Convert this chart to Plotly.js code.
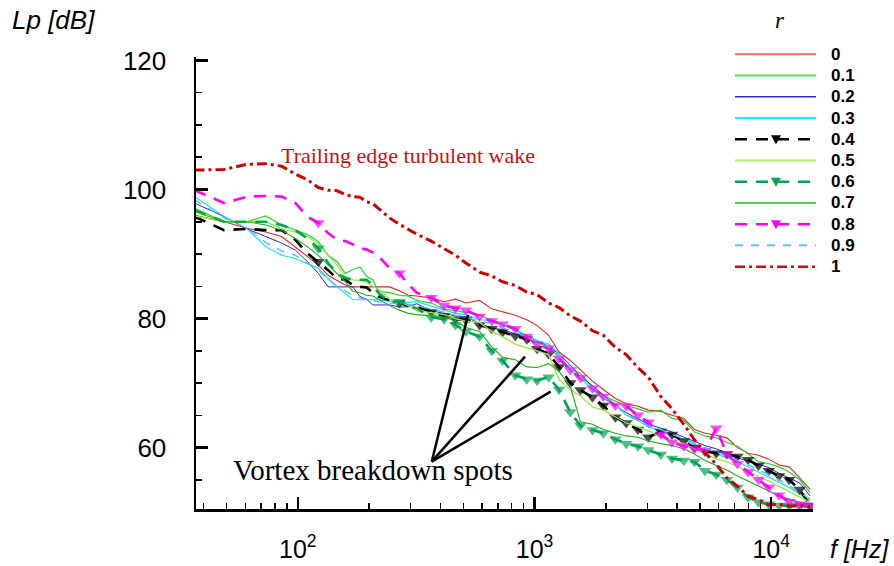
<!DOCTYPE html>
<html>
<head>
<meta charset="utf-8">
<script src="https://cdn.plot.ly/plotly-3.0.1.min.js"></script>
<style>html,body{margin:0;padding:0;background:#fff;}#chart{width:894px;height:566px;}</style>
</head>
<body>
<div id="chart"></div>
<script>
// Narrowband frequency bins [Hz]
const freq = [36.6, 48.8, 61.0, 73.2, 85.4, 97.7, 109.9, 122.1, 134.3, 146.5, 158.7, 170.9, 183.1, 195.3, 207.5, 219.7, 244.1, 268.6, 293.0, 317.4, 366.2, 415.0, 463.9, 512.7, 585.9, 659.2, 732.4, 830.1, 927.7, 1025.4, 1147.5, 1269.5, 1416.0, 1562.5, 1757.8, 1953.1, 2197.3, 2441.4, 2734.4, 3027.3, 3417.9, 3808.6, 4272.5, 4736.3, 5249.0, 5859.4, 6494.1, 7202.1, 7983.4, 8837.9, 9765.6, 10791.0, 11914.1, 13183.6, 14599.6];

const seriesNames = ['0', '0.1', '0.2', '0.3', '0.4', '0.5', '0.6', '0.7', '0.8', '0.9', '1'];

// Sound pressure level Lp [dB] per r
const lp_r0  = [96.0, 95.0, 94.0, 93.4, 92.7, 91.1, 89.6, 88.3, 86.7, 85.9, 85.2, 84.9, 84.9, 84.9, 84.9, 84.9, 84.9, 84.3, 83.6, 83.5, 83.2, 82.6, 83.0, 82.4, 82.8, 81.5, 81.0, 80.5, 79.8, 78.9, 77.4, 74.8, 73.5, 72.0, 70.3, 69.0, 67.6, 66.8, 66.4, 65.8, 65.6, 65.0, 64.5, 62.8, 62.2, 61.9, 61.5, 60.0, 59.1, 58.8, 58.2, 57.3, 57.0, 55.3, 53.5];
const lp_r01 = [97.1, 95.0, 95.0, 95.9, 94.5, 93.7, 93.0, 91.9, 89.8, 88.8, 87.0, 87.6, 88.0, 86.5, 86.0, 84.2, 84.0, 83.6, 83.5, 82.8, 82.4, 81.5, 81.2, 80.9, 80.6, 79.6, 79.0, 78.4, 77.2, 76.3, 75.6, 74.0, 72.2, 71.5, 69.3, 68.0, 67.2, 66.5, 66.0, 65.5, 65.8, 64.5, 64.2, 62.4, 61.8, 61.5, 60.8, 60.2, 59.0, 57.8, 57.5, 57.0, 56.2, 55.0, 53.0];
const lp_r02 = [97.9, 95.8, 93.9, 92.7, 91.7, 90.6, 88.8, 87.0, 84.9, 84.9, 84.9, 84.9, 83.4, 83.0, 82.1, 82.1, 82.1, 81.8, 81.8, 82.3, 81.2, 80.8, 80.4, 80.3, 79.2, 78.5, 78.3, 77.6, 77.0, 76.5, 75.7, 74.5, 72.8, 71.0, 69.6, 68.2, 66.5, 65.4, 64.4, 63.6, 63.0, 62.4, 61.6, 61.0, 60.3, 59.8, 59.2, 58.4, 57.9, 57.4, 56.9, 56.0, 55.2, 54.5, 52.5];
const lp_r03 = [98.9, 95.8, 93.9, 91.1, 89.8, 89.3, 88.5, 87.8, 86.2, 84.9, 83.9, 82.9, 82.9, 82.9, 82.9, 82.9, 82.7, 82.6, 82.5, 82.6, 81.9, 81.4, 80.8, 80.6, 79.8, 79.7, 79.0, 78.2, 77.4, 76.6, 76.0, 74.6, 72.0, 70.8, 69.0, 67.6, 66.6, 65.0, 64.2, 63.2, 62.6, 61.8, 61.2, 60.5, 59.6, 59.0, 58.4, 57.8, 57.0, 56.2, 55.4, 54.6, 53.8, 52.8, 51.8];
const lp_r04 = [95.8, 93.7, 93.9, 93.7, 93.7, 92.2, 90.1, 88.8, 87.5, 86.2, 86.0, 85.2, 84.9, 84.8, 84.0, 83.4, 82.8, 82.4, 82.0, 81.8, 81.0, 80.4, 79.9, 79.8, 79.0, 78.4, 77.9, 77.3, 76.8, 75.3, 74.5, 72.5, 70.0, 68.9, 67.8, 66.5, 64.7, 63.8, 62.8, 61.6, 62.5, 62.0, 61.0, 60.0, 59.4, 59.1, 59.0, 58.6, 58.1, 57.2, 56.4, 55.6, 55.0, 53.5, 51.0];
const lp_r05 = [95.9, 95.0, 95.0, 95.0, 93.9, 93.4, 92.7, 91.5, 89.8, 88.3, 86.5, 86.0, 85.9, 85.6, 85.0, 84.5, 83.0, 82.6, 82.0, 81.2, 80.9, 80.6, 80.0, 79.6, 79.4, 78.0, 77.2, 76.0, 75.5, 75.0, 74.4, 70.5, 69.0, 68.0, 66.3, 65.8, 64.7, 63.8, 63.2, 62.6, 61.6, 61.0, 60.6, 59.8, 59.0, 58.2, 57.8, 57.0, 56.2, 55.5, 54.8, 54.0, 53.2, 52.4, 51.5];
const lp_r06 = [96.8, 95.0, 95.0, 95.0, 94.5, 93.7, 92.4, 90.9, 88.6, 87.0, 86.3, 86.0, 86.0, 86.0, 85.2, 83.9, 82.6, 82.6, 82.0, 81.6, 80.2, 79.9, 79.0, 78.0, 77.2, 75.0, 73.5, 71.2, 70.6, 70.4, 70.9, 69.0, 65.5, 63.4, 62.7, 62.2, 61.3, 60.6, 60.2, 59.6, 58.9, 58.3, 58.0, 57.8, 56.4, 55.8, 55.0, 53.8, 52.3, 51.5, 51.2, 51.0, 51.0, 50.9, 50.8];
const lp_r07 = [96.6, 95.0, 95.0, 94.5, 93.7, 92.4, 91.1, 89.8, 88.3, 87.0, 85.7, 84.2, 84.0, 83.6, 83.5, 83.0, 82.0, 81.3, 80.8, 80.6, 80.4, 80.2, 79.6, 78.6, 78.0, 75.6, 74.0, 73.6, 72.5, 72.4, 73.0, 71.8, 69.5, 64.0, 63.6, 62.8, 62.2, 61.8, 61.6, 61.0, 60.6, 60.3, 59.8, 59.0, 58.0, 57.2, 56.5, 55.6, 54.8, 54.0, 53.2, 52.5, 52.0, 51.5, 51.0];
const lp_r08 = [99.9, 97.9, 98.9, 99.0, 98.9, 97.9, 95.8, 94.8, 93.2, 92.2, 92.0, 91.5, 90.9, 90.7, 90.2, 89.6, 87.8, 87.0, 85.3, 84.0, 83.2, 82.0, 81.6, 81.3, 80.3, 79.6, 79.1, 78.4, 77.2, 76.0, 75.4, 73.8, 72.0, 70.8, 69.2, 67.9, 66.5, 66.4, 65.0, 63.9, 62.0, 60.8, 60.2, 59.8, 59.5, 63.0, 59.0, 57.5, 56.2, 55.0, 53.8, 52.6, 51.6, 51.2, 51.0];
const lp_r09 = [98.4, 95.6, 94.0, 91.8, 90.5, 89.8, 88.6, 87.5, 86.0, 85.0, 84.3, 83.5, 83.2, 83.0, 82.8, 82.6, 82.4, 82.3, 82.2, 82.0, 81.5, 81.0, 80.5, 80.2, 79.6, 79.2, 78.6, 77.9, 77.2, 76.4, 75.6, 74.2, 72.4, 70.9, 69.3, 67.9, 66.5, 65.2, 64.3, 63.4, 62.8, 62.0, 61.4, 60.6, 59.9, 59.3, 58.7, 58.0, 57.3, 56.6, 55.8, 55.0, 54.1, 53.0, 52.0];
const lp_r1  = [103.0, 103.1, 103.9, 104.0, 103.6, 102.4, 101.5, 100.3, 99.9, 99.8, 99.2, 98.9, 98.8, 98.1, 97.8, 97.0, 95.6, 94.6, 93.8, 93.1, 92.0, 90.9, 89.8, 88.6, 87.2, 86.6, 85.7, 85.1, 84.1, 83.7, 82.4, 81.7, 80.4, 79.6, 78.1, 77.4, 75.5, 74.4, 72.4, 70.9, 67.9, 66.0, 63.6, 61.2, 59.2, 57.4, 55.3, 54.0, 52.5, 51.9, 51.1, 51.2, 50.9, 51.0, 50.8];

const xTickVals = [100, 1000, 10000];
const xTickText = ['10<sup>2</sup>', '10<sup>3</sup>', '10<sup>4</sup>'];
const yTickVals = [60, 80, 100, 120];

const levels = [lp_r0, lp_r01, lp_r02, lp_r03, lp_r04, lp_r05, lp_r06, lp_r07, lp_r08, lp_r09, lp_r1];

const styles = [
  {color: '#e02828', width: 1.1, dash: 'solid', marker: false, legColor: '#e07070', legWidth: 2},
  {color: '#33d633', width: 1.3, dash: 'solid', marker: false, legColor: '#55dd55', legWidth: 2},
  {color: '#2a2ad0', width: 1.0, dash: 'solid', marker: false, legColor: '#2a2ad0', legWidth: 1.5},
  {color: '#00e0ff', width: 1.1, dash: 'solid', marker: false, legColor: '#22e8ff', legWidth: 1.8},
  {color: '#000000', width: 2.6, dash: '12px,9px', marker: true, legColor: '#000000', legWidth: 2.6},
  {color: '#9be840', width: 1.3, dash: 'solid', marker: false, legColor: '#aaee66', legWidth: 2},
  {color: '#00a352', width: 2.6, dash: '12px,9px', marker: true, legColor: '#00a352', legWidth: 2.6},
  {color: '#1fae1f', width: 1.1, dash: 'solid', marker: false, legColor: '#1fb51f', legWidth: 1.6},
  {color: '#ff00ff', width: 2.6, dash: '12px,9px', marker: true, legColor: '#ff00ff', legWidth: 2.6},
  {color: '#55b8ee', width: 1.3, dash: '8px,8px', marker: false, legColor: '#55b8ee', legWidth: 1.8},
  {color: '#cc0000', width: 3.0, dash: '10px,4px,3px,4px', marker: false, legColor: '#cc1010', legWidth: 2.6}
];

const markerSizes = freq.map((f, i) => (i === 7 || i === 17 || i >= 20) ? 11 : 0);

const traces = levels.map((lv, i) => {
  const s = styles[i];
  return {
    x: freq, y: lv, type: 'scatter',
    mode: s.marker ? 'lines+markers' : 'lines',
    name: seriesNames[i],
    line: {color: s.color, width: s.width, dash: s.dash},
    marker: {symbol: 'triangle-down', size: markerSizes, color: s.color, line: {width: 0}},
    showlegend: false,
    hoverinfo: 'x+y+name'
  };
});

// plot area in pixels
const L = 196, R = 813, T = 57, B = 509;
const px = v => (v - L) / (R - L);
const py = v => (B - v) / (B - T);

const shapes = [];
const annotations = [];

// manual legend
seriesNames.forEach((nm, i) => {
  const s = styles[i];
  const yy = 54.3 + 21.24 * i;
  shapes.push({type: 'line', xref: 'paper', yref: 'paper', x0: px(735), x1: px(816), y0: py(yy), y1: py(yy),
    line: {color: s.legColor, width: s.legWidth, dash: s.dash}});
  if (s.marker) {
    const cx = 776;
    shapes.push({type: 'path', xref: 'paper', yref: 'paper',
      path: `M ${px(cx - 5)} ${py(yy - 4)} L ${px(cx + 5)} ${py(yy - 4)} L ${px(cx)} ${py(yy + 5)} Z`,
      fillcolor: s.legColor, line: {width: 0}});
  }
  annotations.push({xref: 'paper', yref: 'paper', x: px(829), y: py(yy), xanchor: 'left', yanchor: 'middle',
    text: '<b>' + nm + '</b>', showarrow: false, font: {family: 'Liberation Sans, Arial, sans-serif', size: 17, color: '#000'}});
});
annotations.push({xref: 'paper', yref: 'paper', x: px(780), y: py(20), xanchor: 'center', yanchor: 'middle',
  text: '<i>r</i>', showarrow: false, font: {family: 'Liberation Serif, Times New Roman, serif', size: 23, color: '#000'}});

// axis titles
annotations.push({xref: 'paper', yref: 'paper', x: px(10), y: py(20), xanchor: 'left', yanchor: 'middle',
  text: '<i>Lp [dB]</i>', showarrow: false, font: {family: 'Liberation Sans, Arial, sans-serif', size: 26, color: '#000'}});
annotations.push({xref: 'paper', yref: 'paper', x: px(828), y: py(549), xanchor: 'left', yanchor: 'middle',
  text: '<i>f [Hz]</i>', showarrow: false, font: {family: 'Liberation Sans, Arial, sans-serif', size: 25, color: '#000'}});

// text labels
annotations.push({xref: 'paper', yref: 'paper', x: px(279), y: py(156), xanchor: 'left', yanchor: 'middle',
  text: 'Trailing edge turbulent wake', showarrow: false, font: {family: 'Liberation Serif, Times New Roman, serif', size: 22, color: '#cc1111'}});
annotations.push({xref: 'paper', yref: 'paper', x: px(231), y: py(470), xanchor: 'left', yanchor: 'middle',
  text: 'Vortex breakdown spots', showarrow: false, font: {family: 'Liberation Serif, Times New Roman, serif', size: 29, color: '#000'}});

// pointer lines
const origin = [431.7, 461.7];
[[468, 315], [525, 356.7], [550.7, 391.7]].forEach(e => {
  shapes.push({type: 'line', xref: 'paper', yref: 'paper', x0: px(origin[0]), y0: py(origin[1]), x1: px(e[0]), y1: py(e[1]),
    line: {color: '#000', width: 2.5}});
});

// minor ticks for log axis
const xMinor = [];
[10, 100, 1000, 10000].forEach(d => { for (let k = 2; k <= 9; k++) xMinor.push(k * d); });

const layout = {
  width: 894, height: 566,
  margin: {l: L, r: 894 - R, t: T, b: 566 - B, pad: 0},
  paper_bgcolor: '#fff', plot_bgcolor: '#fff',
  showlegend: false,
  font: {family: 'Liberation Sans, Arial, sans-serif', color: '#000'},
  xaxis: {
    type: 'log', range: [1.5699, 4.1766],
    showline: true, linecolor: '#000', linewidth: 2.5, mirror: false,
    showgrid: false, zeroline: false,
    tickmode: 'array', tickvals: xTickVals, ticktext: xTickText,
    ticks: 'inside', ticklen: 12, tickwidth: 2.5, tickcolor: '#000',
    ticklabelstandoff: 16,
    tickfont: {size: 25, family: 'Liberation Sans, Arial, sans-serif', color: '#000'},
    minor: {tickmode: 'array', tickvals: xMinor, ticks: 'inside', ticklen: 6, tickwidth: 1.5, tickcolor: '#000', showgrid: false}
  },
  yaxis: {
    range: [50.47, 120.54],
    showline: true, linecolor: '#000', linewidth: 2.5, mirror: false,
    showgrid: false, zeroline: false,
    tickmode: 'array', tickvals: yTickVals,
    ticks: 'inside', ticklen: 12, tickwidth: 2.5, tickcolor: '#000',
    ticklabelstandoff: 22,
    tickfont: {size: 26, family: 'Liberation Sans, Arial, sans-serif', color: '#000'},
    minor: {dtick: 5, tick0: 0, ticks: 'inside', ticklen: 6, tickwidth: 1.5, tickcolor: '#000', showgrid: false}
  },
  shapes: shapes,
  annotations: annotations
};

Plotly.newPlot('chart', traces, layout, {displayModeBar: false, staticPlot: true});
</script>
</body>
</html>
